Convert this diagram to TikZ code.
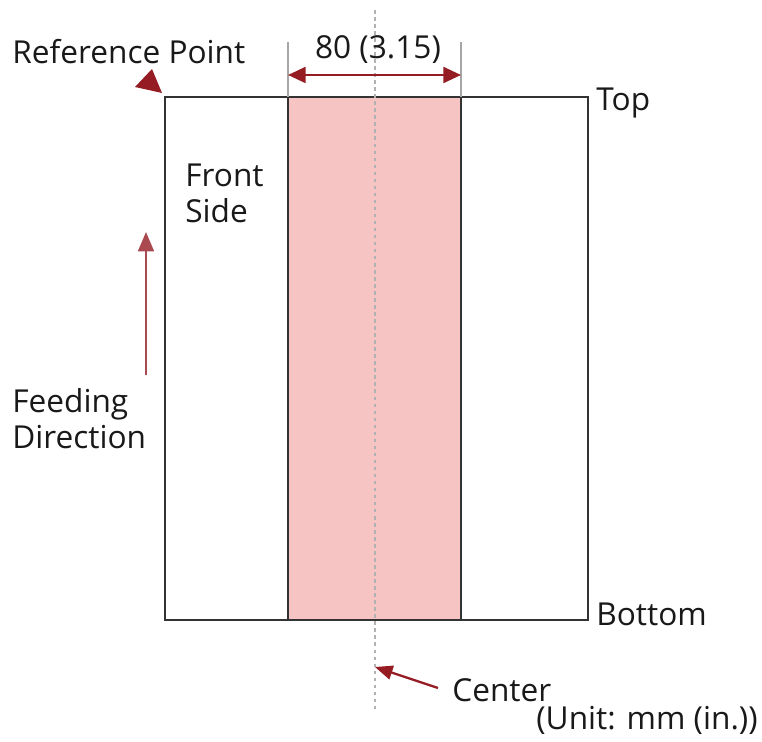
\documentclass[tikz,border=0pt]{standalone}
\usepackage{fontspec}
\setmainfont{Open Sans}
\usetikzlibrary{arrows.meta}
\definecolor{darkred}{RGB}{150,28,36}
\definecolor{bandpink}{RGB}{247,196,196}
\tikzset{lbl/.style={font=\fontsize{18}{20.5}\selectfont, inner sep=0pt, text=black!90}}
\begin{document}
\begin{tikzpicture}[x=0.02cm,y=-0.02cm]
  \useasboundingbox (0,0) rectangle (762,742);
  \coordinate (A) at (165,97);
  \coordinate (B) at (588,620);
  \coordinate (L) at (288,97);
  \coordinate (R) at (461,620);
\fill[bandpink] (L) rectangle (R);
\draw[line width=1.1pt, black!80] (A) rectangle (B);
\draw[line width=1.1pt, black!80] (288,97)--(288,620);
\draw[line width=1.1pt, black!80] (461,97)--(461,620);
\draw[gray!60, line width=1.5pt, dash pattern=on 2pt off 2pt] (375,10)--(375,712);
\draw[gray!70, line width=0.8pt] (288,97)--(288,42);
\draw[gray!70, line width=0.8pt] (461,97)--(461,42);
\coordinate (D1) at (288,75);
\coordinate (D2) at (461,75);
\draw[{Triangle[length=10pt,width=9pt]}-{Triangle[length=10pt,width=9pt]},darkred,line width=1.4pt] (D1)--(D2);
\node[lbl] (dim) at (378,50) {80 (3.15)};
% reference point
\node[lbl,anchor=west] (refpt) at (12,52) {Reference Point};
\fill[darkred] (162,93)--(152,69)--(135,87)--cycle;
\node[lbl,anchor=west] (top) at (596,103) {Top};
\node[lbl,anchor=west] (bottom) at (596,614) {Bottom};
\node[lbl,anchor=north west,align=left] (front) at (185,164) {Front\\Side};
% feeding direction
\coordinate (F1) at (146,375);
\coordinate (F2) at (146,232);
\draw[-{Triangle[length=11pt,width=9pt]},darkred!80,line width=1.3pt] (F1)--(F2);
\node[lbl,anchor=north west,align=left] (feed) at (12,388) {Feeding\\Direction};
% center
\node[lbl,anchor=west] (center) at (452,690) {Center};
\coordinate (C1) at (375,667);
\draw[-{Triangle[length=10pt,width=8pt]},darkred,line width=1.3pt] (center.west) ++(-14,-2) --(C1);
\node[lbl,anchor=east] (unit) at (758,720) {(Unit: mm (in.))};
\end{tikzpicture}
\end{document}
